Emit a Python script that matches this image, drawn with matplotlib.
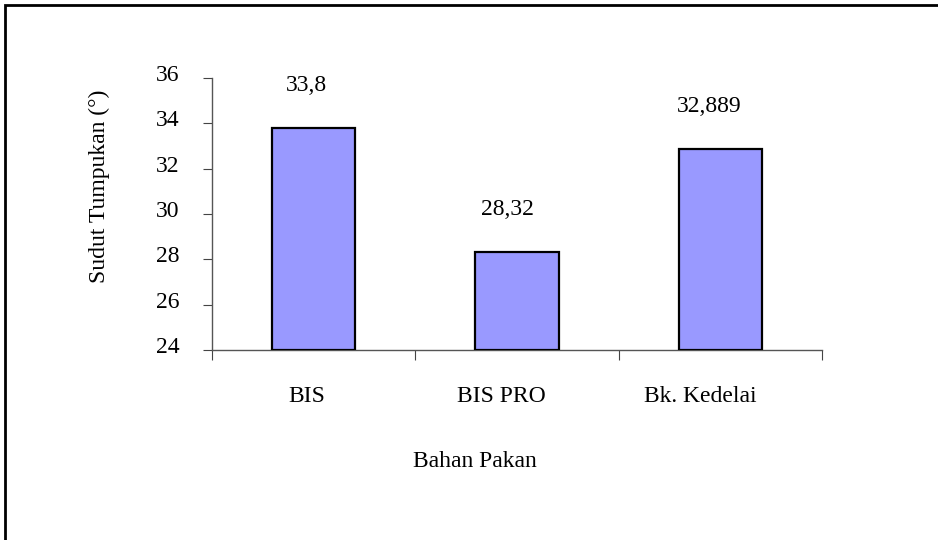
import matplotlib.pyplot as plt
import matplotlib.patches as mpatches
from matplotlib.transforms import Affine2D, offset_copy
import numpy as np

categories = ["BIS", "BIS PRO", "Bk. Kedelai"]
sudut = [33.8, 28.32, 32.889]
label_text = ["33,8", "28,32", "32,889"]
y_ticks = [24, 26, 28, 30, 32, 34, 36]

plt.rcParams['font.family'] = ['Liberation Serif', 'DejaVu Serif']
plt.rcParams['font.size'] = 17

fig = plt.figure(figsize=(9.38, 5.4), dpi=100)
ax = fig.add_axes([212/938, 1-350/540, 610/938, 272/540])

x = np.arange(len(categories))
ax.bar(x, np.array(sudut) - 24, bottom=24, width=0.41, color='#9999FF',
       edgecolor='black', linewidth=1.6, zorder=3)

# value labels above bars
shifted = []
lab_tr = offset_copy(ax.transData, fig=fig, x=0, y=37, units='dots')
for xi, v, t in zip(x, sudut, label_text):
    shifted.append(ax.text(xi, v, t, ha='center', va='baseline', transform=lab_tr))

# category names under the axis
cat_tr = offset_copy(ax.get_xaxis_transform(), fig=fig, x=0, y=-52, units='dots')
for xi, c in zip(x, categories):
    shifted.append(ax.text(xi, 0, c, ha='center', va='baseline', transform=cat_tr))

ax.set_xlim(-0.5, 2.5)
ax.set_ylim(24, 36)
ax.set_yticks(y_ticks)
ax.set_xticks([-0.5, 0.5, 1.5, 2.5])
ax.set_xticklabels([])
ax.tick_params(axis='x', length=7, direction='out', color='#444444')
ax.tick_params(axis='y', length=6.5, direction='out', pad=17, color='#444444')

for s in ['top', 'right']:
    ax.spines[s].set_visible(False)
for s in ['left', 'bottom']:
    ax.spines[s].set_color('#555555')
    ax.spines[s].set_linewidth(1.0)

ax.set_ylabel("Sudut Tumpukan (°)")
ax.yaxis.set_label_coords(-0.167, 0.603)
ax.set_xlabel("Bahan Pakan")
ax.xaxis.set_label_coords(0.431, -0.37)

border = mpatches.Rectangle((5/938, -0.1), 1.2, 1.1 - 5/540, transform=fig.transFigure,
                            fill=False, edgecolor='black', linewidth=2)
fig.patches.append(border)

# text in the original sits a bit left of centre
fig.canvas.draw()
r = fig.canvas.get_renderer()
for t in shifted:
    w = t.get_window_extent(r).width
    t.set_transform(t.get_transform() + Affine2D().translate(-0.18 * w, 0))
for lab in ax.get_yticklabels():
    lab.set_transform(lab.get_transform() + Affine2D().translate(0, 5))

fig.savefig("out.png", dpi=100)
